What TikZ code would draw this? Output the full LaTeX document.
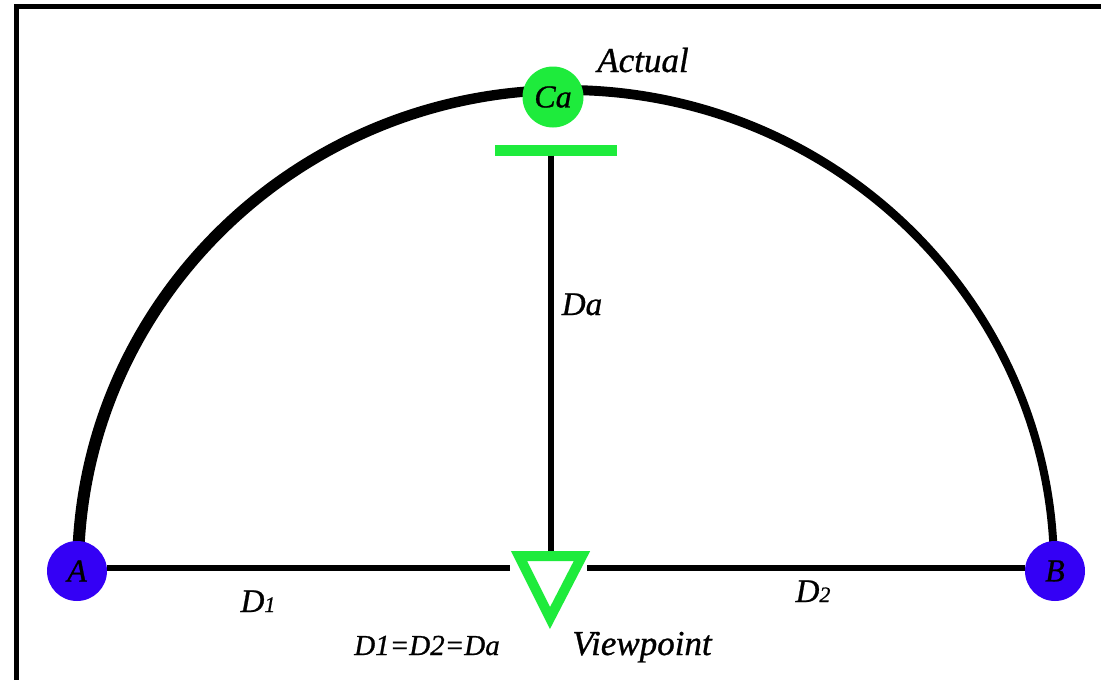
\documentclass[tikz,border=0pt]{standalone}
\usepackage{fontspec}
\setmainfont[ItalicFeatures={FakeBold=0.8}]{Liberation Serif}
\usetikzlibrary{calc}
\definecolor{ptblue}{RGB}{52,0,245}
\definecolor{ptgreen}{RGB}{30,235,60}
\tikzset{
  endpt/.style={circle,fill=ptblue,minimum size=60pt,inner sep=0pt,font=\fontsize{32}{32}\selectfont\itshape},
  actpt/.style={circle,fill=ptgreen,minimum size=61pt,inner sep=0pt,font=\fontsize{32}{32}\selectfont\itshape},
  lbl/.style={anchor=base,inner sep=0pt,font=\fontsize{33}{33}\selectfont\itshape},
  biglbl/.style={lbl,font=\fontsize{35}{35}\selectfont\itshape},
  conn/.style={line width=5.5pt},
}
\newcommand{\sbn}[1]{{\fontsize{22}{22}\selectfont #1}}
\begin{document}
\begin{tikzpicture}[x=1pt,y=-1pt]
\useasboundingbox (0,0) rectangle (1101,680);
\clip (0,0) rectangle (1101,680);
\fill[white] (0,0) rectangle (1101,680);
% frame
\draw[line width=4.5pt] (16.5,720) -- (16.5,6.5) -- (1140,6.5);
% tapered arc
\fill[black] (72,570) arc[start angle=180,end angle=360,x radius=493,y radius=485]
  -- (1050,570) arc[start angle=0,end angle=-180,x radius=483,y radius=475] -- cycle;
% nodes
\node[endpt] (A) at (77,571) {A};
\node[endpt] (B) at (1055,571) {B};
\node[actpt] (Ca) at (553,97) {Ca};
\node[rectangle,fill=ptgreen,minimum width=122pt,minimum height=11pt,inner sep=0pt] (bar) at (556,150) {};
% viewpoint triangle
\coordinate (vpTL) at (519,556);
\coordinate (vpTR) at (582,556);
\coordinate (vpB) at (550,618);
\draw[ptgreen,line width=10pt,miter limit=10] (vpTL) -- (vpTR) -- (vpB) -- cycle;
\coordinate (vpTop) at (551,551);
\coordinate (vpL) at (510,568);
\coordinate (vpR) at (587,568);
% connectors
\draw[conn] (A.east |- vpL) -- (vpL);
\draw[conn] (vpR) -- (B.west |- vpR);
\draw[conn] (bar.south -| vpTop) -- (vpTop);
% labels
\node[biglbl] (actual) at (643,72) {Actual};
\node[lbl] (d1) at (258,612) {D\sbn{1}};
\node[lbl] (d2) at (813,602) {D\sbn{2}};
\node[lbl] (da) at (582,315) {Da};
\node[lbl,font=\fontsize{29}{29}\selectfont\itshape] (eq) at (427,655) {D1=D2=Da};
\node[biglbl] (vp) at (642,655) {Viewpoint};
\end{tikzpicture}
\end{document}
